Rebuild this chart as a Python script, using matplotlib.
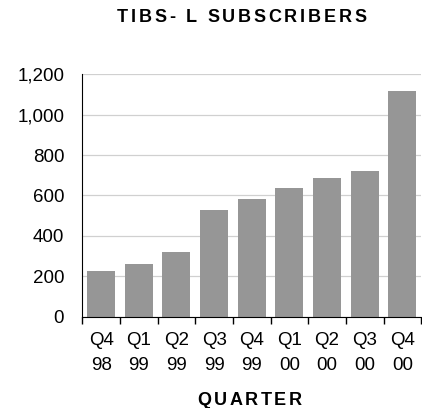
import numpy as np
import matplotlib.pyplot as plt
from matplotlib.font_manager import FontProperties, findfont
from matplotlib.ft2font import FT2Font
from matplotlib.transforms import IdentityTransform

plt.rcParams["font.family"] = ["Liberation Sans", "DejaVu Sans"]

quarters = ["Q4\n98", "Q1\n99", "Q2\n99", "Q3\n99", "Q4\n99",
            "Q1\n00", "Q2\n00", "Q3\n00", "Q4\n00"]
subscribers = [226, 261, 320, 528, 583, 637, 687, 721, 1117]
yticks = [0, 200, 400, 600, 800, 1000, 1200]


def tracked_text(fig, cx, base_y, s, size, track):
    """Bold text with extra letter spacing, centred on cx (pixels)."""
    fp = FontProperties(family="Liberation Sans", weight="bold", size=size)
    font = FT2Font(findfont(fp))
    font.set_size(size, fig.dpi)
    advs = [font.load_char(ord(c)).linearHoriAdvance / 65536 for c in s]
    total = sum(advs) + track * (len(s) - 1)
    x = cx - total / 2
    for c, a in zip(s, advs):
        fig.text(x, base_y, c, transform=IdentityTransform(), ha="left",
                 va="baseline", fontproperties=fp)
        x += a + track


fig = plt.figure(figsize=(4.22, 4.08), dpi=100)
ax = fig.add_axes([0.195, 0.224, 0.803, 0.594])

x = np.arange(len(quarters))
ax.bar(x, subscribers, width=0.74, color="#969696", zorder=2)

ax.set_xlim(-0.5, len(quarters) - 0.5)
ax.set_ylim(0, 1200)
ax.set_yticks(yticks)
ax.set_yticklabels([f"{v:,}" for v in yticks], fontsize=13.5)
ax.yaxis.grid(True, color="#d0d0d0", linewidth=0.9, zorder=0)
ax.tick_params(axis="y", length=0, pad=13)

# category labels centred, tick marks between categories
ax.set_xticks(x)
ax.set_xticklabels(quarters, fontsize=13.5, linespacing=1.62)
ax.tick_params(axis="x", which="major", length=0, pad=11)
ax.set_xticks(np.arange(-0.5, len(quarters)), minor=True)
ax.tick_params(axis="x", which="minor", length=5, width=1, color="black")

for s in ("top", "right"):
    ax.spines[s].set_visible(False)
ax.spines["left"].set_color("black")
ax.spines["bottom"].set_color("black")

tracked_text(fig, 241.5, 385.5, "TIBS- L SUBSCRIBERS", 13.0, 2.8)
tracked_text(fig, 249.5, 3.0, "QUARTER", 13.0, 2.5)

fig.savefig("out.png", dpi=100)
